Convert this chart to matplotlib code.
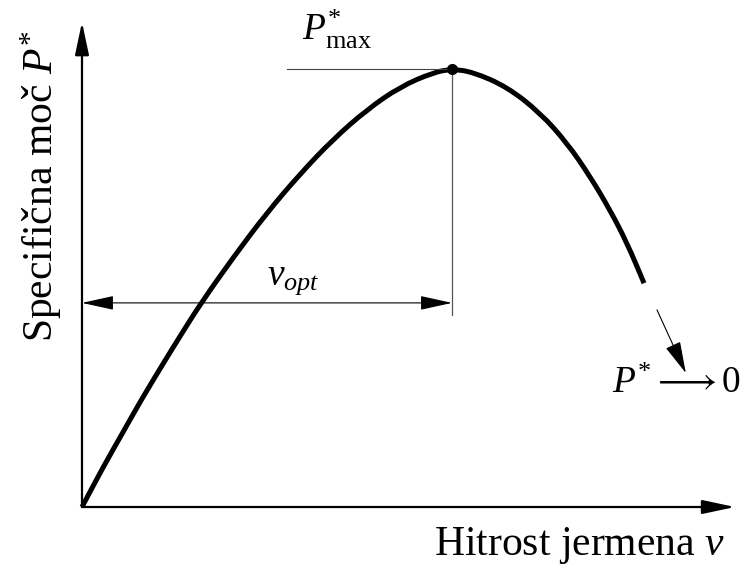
import numpy as np
import matplotlib
matplotlib.use('Agg')
import matplotlib.pyplot as plt
from matplotlib.path import Path
from matplotlib.patches import PathPatch

plt.rcParams['font.family'] = ['Liberation Serif', 'DejaVu Serif']
plt.rcParams['mathtext.fontset'] = 'custom'
plt.rcParams['mathtext.rm'] = 'Liberation Serif'
plt.rcParams['mathtext.it'] = 'Liberation Serif:italic'
plt.rcParams['mathtext.bf'] = 'Liberation Serif:bold'

# hitrost (v / v_opt) in specificna moc (P / P_max)
v = [0.000, 0.057, 0.111, 0.159, 0.219, 0.268, 0.322, 0.408, 0.500, 0.589,
     0.678, 0.770, 0.859, 0.949, 1.000, 1.057, 1.149, 1.238, 1.311, 1.373,
     1.427, 1.473, 1.519]
P = [0.000, 0.091, 0.171, 0.243, 0.327, 0.394, 0.466, 0.569, 0.672, 0.760,
     0.839, 0.907, 0.959, 0.992, 1.000, 0.993, 0.959, 0.900, 0.831, 0.755,
     0.678, 0.603, 0.511]

v_opt = 1.0
P_max = 1.0

fig = plt.figure(figsize=(7.45, 5.7), dpi=100)
ax = fig.add_axes([0, 0, 1, 1])
ax.set_xlim(-0.2216, 1.7919)
ax.set_ylim(-0.1438, 1.1575)
ax.axis('off')

# osi
head = '-|>,head_length=0.8,head_width=0.17'
ax.annotate('', xy=(0, 1.107), xytext=(0, 0),
            arrowprops=dict(arrowstyle=head, mutation_scale=25, lw=1.6,
                            color='k', shrinkA=0, shrinkB=0))
ax.annotate('', xy=(1.765, 0), xytext=(0, 0),
            arrowprops=dict(arrowstyle=head, mutation_scale=25, lw=1.6,
                            color='k', shrinkA=0, shrinkB=0))

# krivulja moci - gladka crta skozi odcitane tocke (kvadratni B-zlepek)
pts = np.column_stack([v, P])
mids = (pts[:-1] + pts[1:]) / 2
verts = [pts[0], mids[0]]
codes = [Path.MOVETO, Path.LINETO]
for i in range(1, len(pts) - 1):
    verts += [pts[i], mids[i]]
    codes += [Path.CURVE3, Path.CURVE3]
verts.append(pts[-1])
codes.append(Path.LINETO)
ax.add_patch(PathPatch(Path(verts, codes), fill=False, edgecolor='k', lw=3.6,
                       capstyle='butt', joinstyle='round'))

# pomozne crte pri maksimumu
ax.plot([0.554, v_opt], [P_max, P_max], color='#444444', lw=0.8)
ax.plot([v_opt, v_opt], [P_max, 0.438], color='#555555', lw=0.9)
ax.plot([v_opt], [P_max], 'o', color='k', ms=7)

# kota v_opt
ax.annotate('', xy=(v_opt, 0.466), xytext=(0, 0.466),
            arrowprops=dict(arrowstyle='<|-|>,head_length=1.0,head_width=0.22',
                            mutation_scale=20, lw=0.8, color='k',
                            shrinkA=0, shrinkB=0))
ax.text(0.5, 0.507, r'$v_{opt}$', fontsize=27, ha='left', va='baseline')

ax.text(0.595, 1.066, r'$P^{*}_{\mathrm{max}}$', fontsize=27, ha='left', va='baseline')

# P* -> 0
ax.annotate('', xy=(1.632, 0.306), xytext=(1.554, 0.450),
            arrowprops=dict(arrowstyle='-|>,head_length=1.0,head_width=0.25',
                            mutation_scale=20, lw=0.8, color='k',
                            shrinkA=0, shrinkB=0))
ax.text(1.432, 0.260, r'$P^{*}\longrightarrow0$', fontsize=27, ha='left', va='baseline')

# oznake osi
ax.text(1.738, -0.110, r'Hitrost jermena $v$', fontsize=30, ha='right', va='baseline')
ax.text(-0.078, 0.377, r'Specifična moč $P^{*}$', fontsize=30, rotation=90,
        rotation_mode='anchor', ha='left', va='baseline')

fig.savefig('out.png', dpi=100)
